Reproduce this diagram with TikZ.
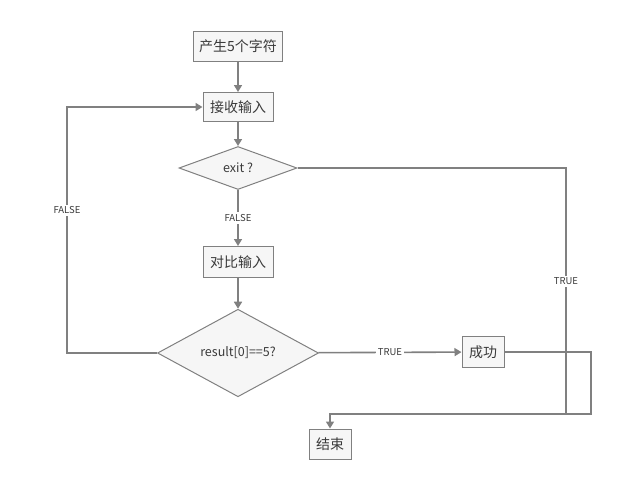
\documentclass[tikz,border=0pt]{standalone}
\usepackage{fontspec}
\setmainfont{Noto Sans CJK SC}
\usetikzlibrary{arrows.meta,shapes.geometric}
\definecolor{lnc}{HTML}{808080}
\definecolor{boxfill}{HTML}{F6F6F6}
\definecolor{txt}{HTML}{3A3A3A}

\begin{document}
\begin{tikzpicture}[x=1pt,y=-1pt,
 box/.style={draw=lnc,fill=boxfill,line width=1pt,text=txt,font=\fontsize{14}{16}\selectfont,minimum width=70,minimum height=29,inner sep=2pt},
 cond/.style={diamond,draw=lnc,fill=boxfill,line width=1pt,text=txt,font=\fontsize{12.5}{14}\selectfont,inner sep=0pt},
 arr/.style={draw=lnc,line width=1.6pt,-{Triangle[width=8pt,length=7pt]}},
 ln/.style={draw=lnc,line width=1.6pt},
 lbl/.style={fill=white,text=txt,font=\fontsize{9.5}{11}\selectfont,inner sep=2pt}]
\useasboundingbox(0,0)rectangle(640,491);
% boxes and decisions
\node[box,minimum width=89,minimum height=30](gen)at(238,46){产生5个字符};
\node[box](recv)at(238,107){接收输入};
\node[cond,minimum width=118,minimum height=43](exit)at(238,168){exit ?};
\node[box,minimum height=31](cmp)at(238,262){对比输入};
\node[cond,minimum width=161,minimum height=59](res)at(238,353){result[0]==5?};
\node[box,minimum width=42,minimum height=31](ok)at(483,352){成功};
\node[box,minimum width=42,minimum height=30](end)at(330,444){结束};
\coordinate(lx)at(67,107);\coordinate(jn)at(566,414);\coordinate(kx)at(591,414);
% connectors
\draw[arr](gen)--(recv);\draw[arr](recv)--(exit);
\draw[arr](exit)--node[lbl]{FALSE}(cmp);\draw[arr](cmp)--(res);
\draw[arr](res)--node[lbl]{TRUE}(ok);
\draw[arr](res.west)-|node[lbl,pos=.79]{FALSE}(lx)--(recv.west);
\draw[arr](exit.east)-|node[lbl,pos=.73]{TRUE}(jn)-|(end);
\draw[ln](ok.east)-|(kx)--(jn);
\end{tikzpicture}
\end{document}
